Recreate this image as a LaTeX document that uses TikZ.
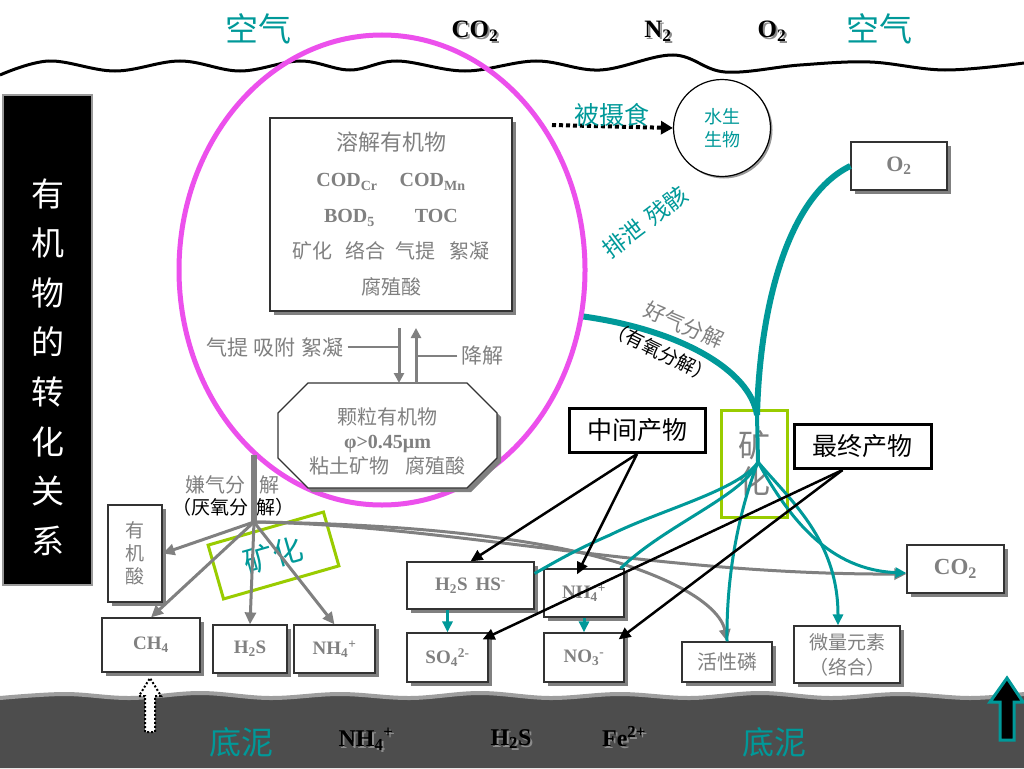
\documentclass[tikz,border=0pt]{standalone}
\usepackage{fontspec}
\setmainfont{Liberation Serif}
\newfontfamily\cjk{Noto Sans CJK SC}
\usetikzlibrary{arrows.meta,shadows,shapes.geometric}
\definecolor{tealc}{RGB}{0,153,153}
\definecolor{gtxt}{RGB}{128,128,128}
\definecolor{magc}{RGB}{236,80,236}
\definecolor{limec}{RGB}{153,204,0}
\definecolor{mud}{RGB}{77,77,77}
\newcommand{\shd}[1]{\makebox[0pt][l]{\hspace{2pt}\raisebox{-2pt}{\textcolor{black!45}{#1}}}#1}
\tikzset{
  cjf/.style 2 args={font=\cjk\fontsize{#1}{#2}\selectfont},
  bff/.style 2 args={font=\bfseries\fontsize{#1}{#2}\selectfont},
  shad/.style={drop shadow={shadow xshift=4pt,shadow yshift=-4pt,fill=black!50,opacity=1}},
  gbox/.style={rectangle,draw=black!80,line width=1.2pt,fill=white,shad,inner sep=0pt,text=gtxt,align=center},
  kbox/.style={rectangle,draw=black,line width=3pt,fill=white,inner sep=0pt,text=black,align=center},
  garr/.style={draw=gtxt,line width=3pt,-{Triangle[length=12pt,width=11pt]}},
  garrs/.style={draw=gtxt,line width=3pt,-{Triangle[length=10pt,width=10pt]}},
  tline/.style={draw=tealc,line width=3pt},
  tarr/.style={draw=tealc,line width=3pt,-{Triangle[length=11pt,width=10pt]}},
  karr/.style={draw=black,line width=2.5pt,-{Triangle[length=12pt,width=11pt]}}
}
\begin{document}
\begin{tikzpicture}[x=1pt,y=-1pt]
\useasboundingbox (0,0) rectangle (1024,768);
\fill[white] (0,0) rectangle (1024,768);

% water surface
\draw[black,line width=3pt] plot[smooth,tension=0.6] coordinates {(0,75) (49,61) (115,71) (180,61) (240,71) (300,61) (350,70) (397,61) (465,71) (536,61) (600,70) (673,55) (725,72) (800,65) (870,62) (945,70) (1024,63)};

% sediment
\fill[mud] plot[smooth,tension=0.6] coordinates {(0,698) (65,694) (130,698) (200,693) (270,698) (340,694) (410,698) (480,693) (550,698) (620,694) (690,698) (760,693) (830,698) (900,694) (970,698) (1024,694)} -- (1024,768) -- (0,768) -- cycle;
\draw[black!38,line width=4pt] plot[smooth,tension=0.6] coordinates {(0,698) (65,694) (130,698) (200,693) (270,698) (340,694) (410,698) (480,693) (550,698) (620,694) (690,698) (760,693) (830,698) (900,694) (970,698) (1024,694)};

% top labels
\node[cjf={33}{36},text=tealc] (air1) at (258,29) {空气};
\node[bff={25}{28}] (gco2) at (475,32) {\shd{CO\textsubscript{2}}};
\node[bff={25}{28}] (gn2) at (658,32) {\shd{N\textsubscript{2}}};
\node[bff={25}{28}] (go2) at (772,32) {\shd{O\textsubscript{2}}};
\node[cjf={33}{36},text=tealc] (air2) at (879,29) {空气};

% title
\node[fill=black,draw=black!40,line width=1.5pt,minimum width=89pt,minimum height=490pt,inner sep=0pt] (tbox) at (47.5,340) {};
\node[cjf={33}{49.6},text=white,align=center] (ttext) at (47.5,367) {有\\机\\物\\的\\转\\化\\关\\系};

% ellipse
\node[ellipse,draw=magc,line width=5pt,minimum width=406pt,minimum height=470pt,inner sep=0pt] (mag) at (382,270) {};

% dissolved organic matter
\node[gbox,minimum width=242pt,minimum height=193pt,font=\fontsize{20}{36}\selectfont] (dom) at (391,214.5) {%
{\cjk\fontsize{22}{36}\selectfont 溶解有机物}\\
{\bfseries COD\textsubscript{Cr}\hspace{22pt}COD\textsubscript{Mn}}\\
{\bfseries BOD\textsubscript{5}\hspace{40pt}TOC}\\
{\cjk 矿化\hspace{14pt}络合\hspace{10pt}气提\hspace{14pt}絮凝}\\
{\cjk 腐殖酸}};

% particulate organic matter (octagonal box)
\path[draw=black!80,line width=1.2pt,fill=white,shad] (308,383) -- (467,383) -- (497,413) -- (497,458) -- (467,488) -- (308,488) -- (278,458) -- (278,413) -- cycle;
\coordinate (octtop) at (387.5,383);
\node[text=gtxt,align=center,font=\fontsize{20}{24.5}\selectfont,inner sep=0pt] (pom) at (387.5,441) {{\cjk 颗粒有机物}\\{\bfseries φ>0.45μm}\\{\cjk 粘土矿物\hspace{16pt}腐殖酸}};

\coordinate (d1) at (399,328);
\coordinate (u1) at (416,328);
\draw[garrs] (d1) -- (d1 |- octtop);
\draw[garrs] (u1 |- octtop) -- (u1);
\node[cjf={21}{24},text=gtxt] (lab1) at (275,347) {气提\hspace{6pt}吸附\hspace{6pt}絮凝};
\draw[gtxt,line width=1.2pt] (lab1.east) -- (lab1.east -| d1);
\node[cjf={21}{24},text=gtxt] (lab2) at (482,356) {降解};
\draw[gtxt,line width=1.2pt] (lab2.west) -- (lab2.west -| u1);

% anaerobic
\node[cjf={20}{24},text=gtxt] (anae) at (232,485) {嫌气分\hspace{14pt}解};
\node[cjf={19}{24}] (anae2) at (233,507) {（厌氧分\hspace{8pt}解）};
\coordinate (J) at (254,522);
\coordinate (T) at (254,455);
\draw[gtxt,line width=6pt] (T) -- (J);

\node[gbox,minimum width=54pt,minimum height=97pt,cjf={19}{23}] (yjs) at (135,553.5) {有\\机\\酸};
\node[gbox,minimum width=98pt,minimum height=54pt,bff={19}{22}] (ch4) at (151,645) {CH\textsubscript{4}};
\node[gbox,minimum width=74pt,minimum height=48pt,bff={19}{22}] (h2sa) at (250,649) {H\textsubscript{2}S};
\node[gbox,minimum width=81pt,minimum height=48pt,bff={19}{22}] (nh4a) at (334.5,649) {NH\textsubscript{4}\textsuperscript{+}};
\node[draw=limec,line width=3pt,minimum width=120pt,minimum height=56pt,rotate=16,cjf={30}{32},text=tealc,inner sep=0pt] (kh1) at (273.5,555.5) {矿化};

\draw[garr] (J) -- (yjs.east);
\draw[garr] (J) -- (ch4.north);
\draw[garr] (J) -- (h2sa.north);
\draw[garr] (J) -- (nh4a.north);

% middle boxes
\node[gbox,minimum width=127pt,minimum height=47pt,bff={19}{22}] (hs) at (470.5,585.5) {H\textsubscript{2}S\hspace{8pt}HS\textsuperscript{-}};
\node[gbox,minimum width=80pt,minimum height=48pt,bff={19}{22}] (nh) at (584,593) {NH\textsubscript{4}\textsuperscript{+}};
\node[gbox,minimum width=81pt,minimum height=49pt,bff={19}{22}] (so4) at (447.5,657.5) {SO\textsubscript{4}\textsuperscript{2-}};
\node[gbox,minimum width=80pt,minimum height=49pt,bff={19}{22}] (no3) at (584,657.5) {NO\textsubscript{3}\textsuperscript{-}};
\node[gbox,minimum width=90pt,minimum height=40pt,cjf={20}{24}] (hp) at (727,662) {活性磷};
\node[gbox,minimum width=106pt,minimum height=57pt,cjf={19}{25}] (wl) at (847,654.5) {微量元素\\（络合）};
\node[gbox,minimum width=97pt,minimum height=48pt,bff={23}{26}] (co2) at (955.5,569) {CO\textsubscript{2}};
\node[gbox,minimum width=96pt,minimum height=48pt,bff={22}{26}] (o2) at (899,166) {O\textsubscript{2}};

\node[circle,draw=black,line width=1.2pt,fill=white,drop shadow={shadow xshift=2pt,shadow yshift=-2pt,fill=black!40,opacity=1},minimum size=97pt,inner sep=0pt,cjf={18}{23},text=tealc,align=center] (org) at (722,128) {水生\\生物};

\node[kbox,minimum width=136pt,minimum height=44pt,cjf={25}{28}] (mid) at (637,430.5) {中间产物};
\node[kbox,minimum width=137pt,minimum height=44pt,cjf={25}{28}] (fin) at (862.5,446.5) {最终产物};

\node[draw=limec,line width=3pt,minimum width=66pt,minimum height=107pt,inner sep=0pt,cjf={32}{36},text=gtxt,align=center] (kh2) at (754,463.5) {矿\\化};

% grey connectors
\draw[garr] (J) .. controls (450,525) and (650,575) .. ([yshift=-5pt]co2.west);
\draw[garr] (J) .. controls (420,524) and (560,540) .. (640,570) .. controls (700,592) and (722,615) .. (hp.north);

% teal
\coordinate (K) at (757,415);
\coordinate (M) at (758,462);
\draw[tealc,line width=6pt] (mag.-13) .. controls (680,330) and (750,370) .. (K);
\draw[tealc,line width=6pt] (o2.west) .. controls (790,195) and (760,300) .. (K);
\draw[tealc,line width=4pt] (K) -- (M);
\draw[tline] (M) .. controls (740,490) and (660,510) .. (610,535) .. controls (575,550) and (555,562) .. ([yshift=12pt]hs.east);
\draw[tline] (M) .. controls (745,495) and (665,525) .. ([xshift=-4pt]nh.north east);
\draw[tline] (M) .. controls (745,495) and (726,560) .. (hp.north);
\draw[tarr] (M) .. controls (790,500) and (838,540) .. ([xshift=-9pt]wl.north);
\draw[tarr] (M) .. controls (790,520) and (830,570) .. ([yshift=-4pt]co2.west);
\draw[tarr] (hs.south -| so4.north) -- (so4.north);
\draw[tarr] (nh.south) -- (no3.north);

% black arrows
\draw[karr] (mid.south) -- (hs.north);
\draw[karr] (mid.south) -- ([xshift=-7pt,yshift=-6pt]nh.north);
\draw[karr] ([xshift=-20pt]fin.south) -- ([xshift=-6pt,yshift=-7pt]so4.north east);
\draw[karr] ([xshift=-20pt]fin.south) -- ([xshift=-6pt,yshift=-7pt]no3.north east);

% feeding
\coordinate (eat) at (552,125);
\draw[line width=4pt,dash pattern=on 4pt off 3pt,-{Triangle[length=12pt,width=13pt]}] (eat) -- (org.west);
\node[cjf={25}{28},text=tealc] (eatl) at (612,115) {被摄食};
\node[cjf={23}{26},text=tealc,rotate=37] (excr) at (645,222) {排泄\hspace{8pt}残骸};
\node[cjf={21}{24},text=gtxt,rotate=-23] (aer) at (684,325) {好气分解};
\node[cjf={19}{22},rotate=-26] (aer2) at (661,352) {（有氧分解）};

% bottom
\node[cjf={32}{36},text=tealc] (mud1) at (241,742) {底泥};
\node[bff={24}{28}] (bnh4) at (366,740) {\shd{NH\textsubscript{4}\textsuperscript{+}}};
\node[bff={24}{28}] (bh2s) at (511,740) {\shd{H\textsubscript{2}S}};
\node[bff={24}{28}] (bfe) at (624,738) {\shd{Fe\textsuperscript{2+}}};
\node[cjf={32}{36},text=tealc] (mud2) at (774,742) {底泥};

\draw[fill=white,draw=black,line width=2pt,dash pattern=on 2pt off 2pt] (145,732) -- (145,696) -- (139,696) -- (150,678) -- (161,696) -- (155,696) -- (155,732) -- cycle;
\draw[fill=black,draw=tealc,line width=3pt] (1000,740) -- (1000,702) -- (990,702) -- (1007,678) -- (1023,702) -- (1014,702) -- (1014,740) -- cycle;
\end{tikzpicture}
\end{document}
